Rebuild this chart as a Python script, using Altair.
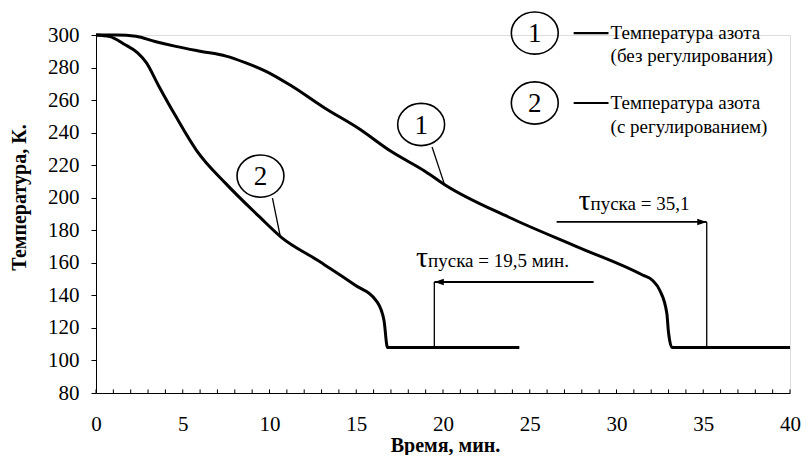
import altair as alt
import pandas as pd

# Curve 1: nitrogen temperature without regulation
time_1 = [0, 1.2, 2.3, 3.4, 4.6, 6, 7.5, 8.6, 9.8, 11.3, 13.2, 15.1, 17.0, 19.0, 20.1,
          23.8, 27.7, 31.5, 32.1, 32.5, 32.9, 33.0, 33.2, 40]
temp_1 = [300, 300, 299.2, 296, 293, 290, 287, 283, 277.7, 268.5, 255, 242.8, 228.5,
          216, 208, 188, 170, 152.5, 149, 143, 129, 117, 108, 108]
# Curve 2: nitrogen temperature with regulation
time_2 = [0, 0.8, 1.6, 2.4, 2.9, 3.6, 4.6, 5.8, 7.5, 9.4, 10.7, 12.7, 14.9,
          16.2, 16.6, 16.8, 24.4]
temp_2 = [300, 299, 294.5, 289, 283, 269, 250, 229, 208.5, 188.5, 175.5, 162, 146.5,
          136, 124.5, 108, 108]

x_ticks = list(range(0, 41))
y_ticks = list(range(80, 301, 20))
x_labels = list(range(0, 41, 5))

legend_lines = ["Температура азота", "(без регулирования)",
                "Температура азота", "(с регулированием)"]
circle_labels = ["1", "2", "1", "2"]
tau_rest = ["пуска = 35,1", "пуска = 19,5 мин."]
tau_start = [35.2, 19.5]

FONT = "Liberation Serif, Times New Roman, serif"
ELLIPSE = "M-1,0A1,0.9,0,1,1,1,0A1,0.9,0,1,1,-1,0Z"
X_TITLE = "Время, мин."
Y_TITLE = "Температура, К."

xs = alt.Scale(domain=[0, 40], nice=False, zero=False)
ys = alt.Scale(domain=[80, 300], nice=False, zero=False)
x_axis = alt.Axis(values=x_labels, ticks=False, grid=False, domainColor="black",
                  domainWidth=1, labelFont=FONT, labelFontSize=21, labelColor="black",
                  labelPadding=20, titleFont=FONT, titleFontSize=20,
                  titleFontWeight="bold", titleColor="black",
                  titleBaseline="alphabetic", titleY=58, titleX=349,
                  labelFlush=False)
y_axis = alt.Axis(values=y_ticks, tickSize=5, tickColor="black", grid=False,
                  domainColor="black", domainWidth=1, labelFont=FONT, labelFontSize=21,
                  labelColor="black", labelPadding=12, titleFont=FONT,
                  titleFontSize=20, titleFontWeight="bold", titleColor="black",
                  titleBaseline="middle", titleX=-77, titleY=162, titleAngle=270)


def X(field):
    return alt.X(field, scale=xs, axis=x_axis, title=X_TITLE)


def Y(field):
    return alt.Y(field, scale=ys, axis=y_axis, title=Y_TITLE)


curves = pd.DataFrame({
    "t": time_1 + time_2,
    "T": temp_1 + temp_2,
    "s": ["1"] * len(time_1) + ["2"] * len(time_2),
    "o": list(range(len(time_1))) + list(range(len(time_2))),
})

lines = alt.Chart(curves).mark_line(color="black", strokeWidth=3,
                                    interpolate="monotone").encode(
    x=X("t:Q"), y=Y("T:Q"), detail="s:N", order="o:Q",
)

# inner minor ticks on the x axis
xt = pd.DataFrame({"t": x_ticks, "y0": [80] * len(x_ticks), "y1": [82.2] * len(x_ticks)})
xtick_rules = alt.Chart(xt).mark_rule(color="black", strokeWidth=1).encode(
    x=X("t:Q"), y=Y("y0:Q"), y2="y1:Q",
)

# segments: leaders, legend lines, arrows, verticals
seg = pd.DataFrame({
    "x": [19.37, 10.17, 27.53, 27.53, 26.55, 35.2, 28.68, 19.5],
    "x2": [20.06, 10.63, 29.54, 29.54, 35.2, 35.2, 19.5, 19.5],
    "y": [231.2, 199.8, 301.2, 258.2, 185.1, 185.1, 148.2, 148.2],
    "y2": [209.0, 175.8, 301.2, 258.2, 185.1, 108, 148.2, 108],
    "w": [1.3, 1.3, 2.2, 2.2, 1.8, 1.3, 1.8, 1.3],
})
segments = alt.Chart(seg).mark_rule(color="black").encode(
    x=X("x:Q"), x2="x2:Q", y=Y("y:Q"), y2="y2:Q",
    strokeWidth=alt.StrokeWidth("w:Q", scale=None),
)

heads = pd.DataFrame({"x": [35.2, 19.5], "y": [185.1, 148.2],
                      "shape": ["M0,0L-2,-0.7L-2,0.7Z", "M0,0L2,-0.7L2,0.7Z"]})
arrowheads = alt.Chart(heads).mark_point(filled=True, color="black", size=90, opacity=1).encode(
    x=X("x:Q"), y=Y("y:Q"), shape=alt.Shape("shape:N", scale=None),
)

circ = pd.DataFrame({"x": [18.74, 9.48, 25.29, 25.29], "y": [245, 213.3, 301.2, 258.2],
                     "lab": circle_labels})
circles = alt.Chart(circ).mark_point(shape=ELLIPSE, size=2200, color="black",
                                     strokeWidth=1.6, filled=False, opacity=1).encode(
    x=X("x:Q"), y=Y("y:Q"),
)
circle_text = alt.Chart(circ).mark_text(font=FONT, fontSize=27, color="black",
                                        align="center", baseline="middle", dy=1).encode(
    x=X("x:Q"), y=Y("y:Q"), text="lab:N",
)

leg = pd.DataFrame({"x": [29.66] * 4, "y": [301.2, 287.1, 258.2, 243.5],
                    "txt": legend_lines, "dx": [0, 6, 0, 6]})
legend_text = alt.Chart(leg).mark_text(font=FONT, fontSize=19, color="black",
                                       align="left", baseline="middle").encode(
    x=X("x:Q"), y=Y("y:Q"), text="txt:N",
    xOffset=alt.XOffset("dx:Q", scale=None),
)

tau = pd.DataFrame({"x": [28.5, 19.14], "y": [192.4, 157.4], "rest": tau_rest,
                    "t": ["τ", "τ"], "v": tau_start})
tau_sym = alt.Chart(tau).mark_text(font=FONT, fontSize=30, color="black",
                                   align="right", baseline="alphabetic").encode(
    x=X("x:Q"), y=Y("y:Q"), text="t:N",
)
tau_txt = alt.Chart(tau).mark_text(font=FONT, fontSize=19, color="black",
                                   align="left", baseline="alphabetic").encode(
    x=X("x:Q"), y=Y("y:Q"), text="rest:N",
)

chart = alt.layer(lines, xtick_rules, segments, arrowheads, circles, circle_text,
                  legend_text, tau_sym, tau_txt).properties(
    width=694, height=358,
    autosize=alt.AutoSizeParams(type="none"),
    padding={"left": 88, "top": 27, "right": 12, "bottom": 62},
).configure_view(stroke=None).configure(background="white")

chart.save("out.html", embed_options={"renderer": "svg", "actions": False})
